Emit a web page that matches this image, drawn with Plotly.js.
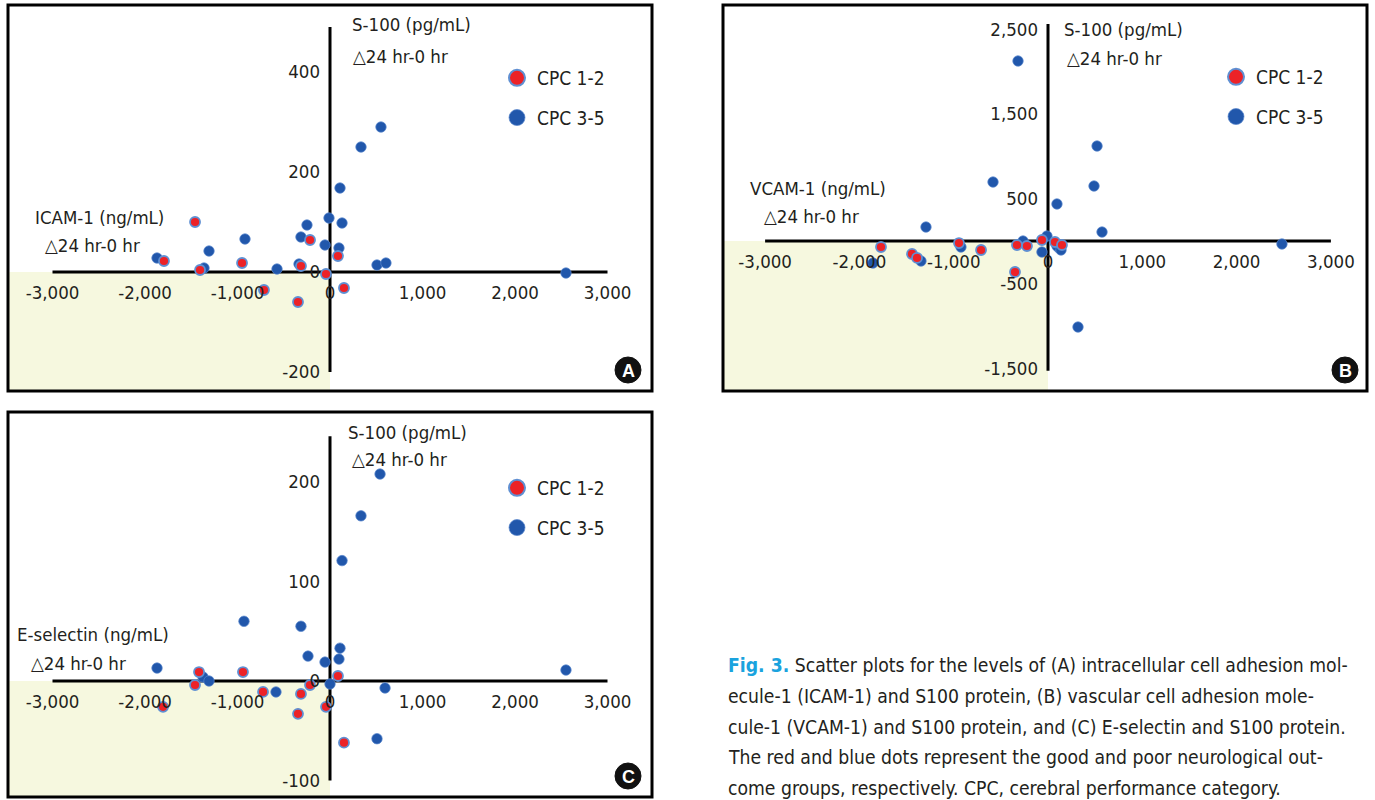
<!DOCTYPE html>
<html><head><meta charset="utf-8">
<script src="https://cdn.plot.ly/plotly-3.0.1.min.js"></script>
<style>html,body{margin:0;padding:0;background:#fff}#chart{width:1375px;height:800px}</style>
</head><body><div id="chart"></div>
<script>
// ---------------- DATA ----------------
const seriesNames = ['CPC 1-2', 'CPC 3-5'];

// Panel A: ICAM-1 vs S-100
const icamRedX  = [-1459, -216, -951, -1795, -1405, -314, 86, -43, -714, 151, -346];
const icamRedY  = [100, 64, 18, 22, 4, 12, 32, -4, -36, -32, -60];
const icamBlueX = [551, 335, 108, -11, 130, -249, -314, -54, 97, -919, -1308, -1870, -1362, -573, -335, 508, 605, 2551];
const icamBlueY = [290, 250, 168, 108, 98, 94, 70, 54, 48, 66, 42, 28, 8, 6, 16, 14, 18, -2];

// Panel B: VCAM-1 vs S-100
const vcamRedX  = [-1771, -1442, -1389, -944, -710, -350, -329, -223, -64, 74, 148];
const vcamRedY  = [-71, -153, -200, -24, -106, -366, -47, -59, 12, -12, -47];
const vcamBlueX = [-318, 520, 488, -583, 95, 573, -1294, 2481, 318, -1856, -1347, -923, -265, -11, -64, 117, 95, 138];
const vcamBlueY = [2124, 1121, 649, 696, 437, 106, 165, -35, -1015, -260, -236, -71, 0, 59, -130, -83, -59, -106];

// Panel C: E-selectin vs S-100
const eselRedX  = [-1416, -941, 86, -1459, -216, -724, -314, -1805, -43, -346, 151];
const eselRedY  = [9, 9, 5, -4, -4, -11, -13, -26, -26, -33, -62];
const eselBlueX = [541, 335, 130, -930, -314, 108, -238, 97, -54, -1870, 2551, -1373, -1308, 0, 595, -584, 508];
const eselBlueY = [208, 166, 121, 60, 55, 33, 25, 22, 19, 13, 11, 4, 0, -3, -7, -11, -58];

// Tick labels
const xTickVals = [-3000, -2000, -1000, 0, 1000, 2000, 3000];
const xTickText = ['-3,000', '-2,000', '-1,000', '0', '1,000', '2,000', '3,000'];
const aYTickVals = [-200, 0, 200, 400];
const aYTickText = ['-200', '0', '200', '400'];
const bYTickVals = [-1500, -500, 500, 1500, 2500];
const bYTickText = ['-1,500', '-500', '500', '1,500', '2,500'];
const cYTickVals = [-100, 0, 100, 200];
const cYTickText = ['-100', '0', '100', '200'];

// Texts
const yTitle = 'S-100 (pg/mL)';
const deltaText = '\u25B324 hr-0 hr';
const xTitles = ['ICAM-1 (ng/mL)', 'VCAM-1 (ng/mL)', 'E-selectin (ng/mL)'];
const badges = ['A', 'B', 'C'];
const captionLines = [
  '<span style="color:#1aa3de"><b>Fig. 3.</b></span> Scatter plots for the levels of (A) intracellular cell adhesion mol-',
  'ecule-1 (ICAM-1) and S100 protein, (B) vascular cell adhesion mole-',
  'cule-1 (VCAM-1) and S100 protein, and (C) E-selectin and S100 protein.',
  'The red and blue dots represent the good and poor neurological out-',
  'come groups, respectively. CPC, cerebral performance category.'
];

// ---------------- STYLE / GEOMETRY ----------------
const W = 1375, H = 800;
const FONT = '"Liberation Sans Narrow", "DejaVu Sans Condensed", "Arial Narrow", "Roboto Condensed", sans-serif';
const TXT = '#231f20';
const RED = '#ec2227', BLUE = '#2157ab', RING = '#5f8fd2', YEL = '#f6f8df';
const px = v => v / W;
const py = v => 1 - v / H;

const panels = [
  {redX: icamRedX, redY: icamRedY, blueX: icamBlueX, blueY: icamBlueY,
   yv: aYTickVals, yt: aYTickText, xTitle: xTitles[0], badge: badges[0],
   box: [8, 5, 652, 391], x0: 330, xs: 0.0925, y0: 272, ys: 0.5, yLine: [-200, 490],
   yTitlePos: [350, 24], yDeltaPos: [351, 56], xTitlePos: [33, 217], xDeltaPos: [43, 245],
   legPos: [497, 59], badgePos: [628, 370]},
  {redX: vcamRedX, redY: vcamRedY, blueX: vcamBlueX, blueY: vcamBlueY,
   yv: bYTickVals, yt: bYTickText, xTitle: xTitles[1], badge: badges[1],
   box: [723, 5, 1367, 391], x0: 1048, xs: 0.0943, y0: 241, ys: 0.08475, yLine: [-1530, 2560],
   yTitlePos: [1062, 30], yDeltaPos: [1065, 58], xTitlePos: [748, 188], xDeltaPos: [762, 216],
   legPos: [1216, 58], badgePos: [1345, 370]},
  {redX: eselRedX, redY: eselRedY, blueX: eselBlueX, blueY: eselBlueY,
   yv: cYTickVals, yt: cYTickText, xTitle: xTitles[2], badge: badges[2],
   box: [8, 412, 652, 797], x0: 330, xs: 0.0925, y0: 681, ys: 0.995, yLine: [-100, 246],
   yTitlePos: [346, 432], yDeltaPos: [350, 460], xTitlePos: [15, 634], xDeltaPos: [29, 663],
   legPos: [497, 469], badgePos: [628, 776]}
];

const traces = [];
const shapes = [];
const annotations = [];
const layout = {
  width: W, height: H, margin: {l: 0, r: 0, t: 0, b: 0, pad: 0},
  paper_bgcolor: '#fff', plot_bgcolor: 'rgba(0,0,0,0)',
  showlegend: true, shapes, annotations
};

panels.forEach((p, i) => {
  const s = i === 0 ? '' : String(i + 1);
  const xa = 'x' + s, ya = 'y' + s;
  const legName = i === 0 ? 'legend' : 'legend' + (i + 1);
  const [l, t, r, b] = p.box;
  const xr = [(l - p.x0) / p.xs, (r - p.x0) / p.xs];
  const yr = [(p.y0 - b) / p.ys, (p.y0 - t) / p.ys];

  layout['xaxis' + s] = {
    domain: [px(l), px(r)], range: xr, anchor: 'free', position: py(p.y0),
    tickmode: 'array', tickvals: xTickVals, ticktext: xTickText,
    showgrid: false, zeroline: false, showline: false, ticks: '',
    ticklabelstandoff: 7, tickfont: {family: FONT, size: 18.5, color: TXT}, fixedrange: true
  };
  layout['yaxis' + s] = {
    domain: [py(b), py(t)], range: yr, anchor: 'free', position: px(p.x0),
    tickmode: 'array', tickvals: p.yv, ticktext: p.yt,
    showgrid: false, zeroline: false, showline: false, ticks: '',
    ticklabelstandoff: 10, tickfont: {family: FONT, size: 18.5, color: TXT}, fixedrange: true
  };
  layout[legName] = {
    x: px(p.legPos[0]), y: py(p.legPos[1]), xanchor: 'left', yanchor: 'top',
    bgcolor: 'rgba(0,0,0,0)', borderwidth: 0, tracegroupgap: 12, traceorder: 'grouped',
    font: {family: FONT, size: 19, color: TXT}, itemsizing: 'trace'
  };

  // quadrant shading
  shapes.push({type: 'rect', xref: xa, yref: ya, x0: xr[0], x1: 0, y0: yr[0], y1: 0,
    fillcolor: YEL, line: {width: 0}, layer: 'below'});
  // axis lines
  shapes.push({type: 'line', xref: xa, yref: ya, x0: xTickVals[0], x1: xTickVals[xTickVals.length - 1], y0: 0, y1: 0,
    line: {color: '#000', width: 3}, layer: 'below'});
  shapes.push({type: 'line', xref: xa, yref: ya, x0: 0, x1: 0, y0: p.yLine[0], y1: p.yLine[1],
    line: {color: '#000', width: 3}, layer: 'below'});
  // panel border
  shapes.push({type: 'rect', xref: 'paper', yref: 'paper', x0: px(l), x1: px(r), y0: py(b), y1: py(t),
    line: {color: '#000', width: 3}, fillcolor: 'rgba(0,0,0,0)', layer: 'above'});
  // badge
  const [bx, by] = p.badgePos;
  shapes.push({type: 'circle', xref: 'paper', yref: 'paper', x0: px(bx - 13), x1: px(bx + 13), y0: py(by + 13), y1: py(by - 13),
    fillcolor: '#111', line: {color: '#111', width: 1}, layer: 'above'});
  annotations.push({text: '<b>' + p.badge + '</b>', xref: 'paper', yref: 'paper', x: px(bx), y: py(by + 0.5),
    xanchor: 'center', yanchor: 'middle', showarrow: false, font: {family: 'Liberation Sans, Arial, sans-serif', size: 18, color: '#fff'}});

  // axis titles
  const addText = (txt, pos) => annotations.push({text: txt, xref: 'paper', yref: 'paper', x: px(pos[0]), y: py(pos[1]),
    xanchor: 'left', yanchor: 'middle', showarrow: false, font: {family: FONT, size: 18.5, color: TXT}});
  addText(yTitle, p.yTitlePos);
  addText(deltaText, p.yDeltaPos);
  addText(p.xTitle, p.xTitlePos);
  addText(deltaText, p.xDeltaPos);

  // data
  traces.push({type: 'scatter', mode: 'markers', x: p.blueX, y: p.blueY, xaxis: xa, yaxis: ya,
    name: seriesNames[1], showlegend: false,
    marker: {size: 10.5, color: BLUE, line: {color: 'rgba(90,135,205,0.7)', width: 1}}, hoverinfo: 'x+y'});
  traces.push({type: 'scatter', mode: 'markers', x: p.redX, y: p.redY, xaxis: xa, yaxis: ya,
    name: seriesNames[0], showlegend: false,
    marker: {size: 10, color: RED, line: {color: RING, width: 1.8}}, hoverinfo: 'x+y'});
  // legend entries
  traces.push({type: 'scatter', mode: 'markers', x: [null], y: [null], xaxis: xa, yaxis: ya,
    name: seriesNames[0], legend: legName, legendgroup: 'r' + i, showlegend: true,
    marker: {size: 16, color: RED, line: {color: RING, width: 2}}});
  traces.push({type: 'scatter', mode: 'markers', x: [null], y: [null], xaxis: xa, yaxis: ya,
    name: seriesNames[1], legend: legName, legendgroup: 'b' + i, showlegend: true,
    marker: {size: 16, color: BLUE, line: {color: 'rgba(90,135,205,0.7)', width: 1}}});
});

// caption
const capY = [665, 696, 727, 757, 788];
captionLines.forEach((line, k) => annotations.push({
  text: line, xref: 'paper', yref: 'paper', x: px(726), y: py(capY[k]),
  xanchor: 'left', yanchor: 'middle', showarrow: false, align: 'left',
  font: {family: FONT, size: 19.2, color: TXT}
}));

Plotly.newPlot('chart', traces, layout, {displayModeBar: false, staticPlot: true});
</script>
</body></html>
